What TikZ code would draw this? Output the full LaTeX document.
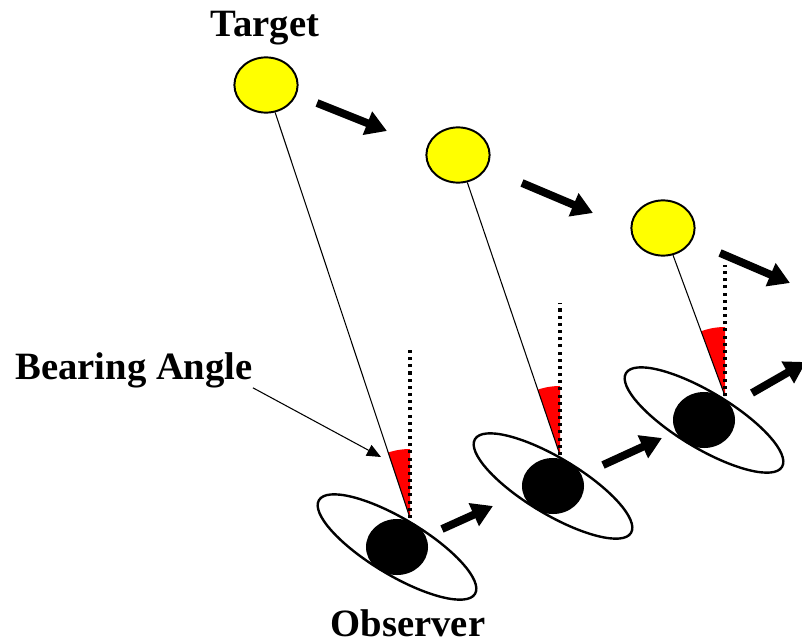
\documentclass[tikz,border=0pt]{standalone}
\usepackage{fontspec}
\setmainfont{Liberation Serif}
\usepackage{tikz}
\usetikzlibrary{
  arrows.meta,
  positioning,
  shapes.geometric,
  calc
}
\usepackage{xcolor}
\definecolor{sunyellow}{RGB}{255,255,0}
\definecolor{anglered}{RGB}{255,0,0}

\begin{document}
\begin{tikzpicture}[
  x=0.025cm, y=-0.025cm,
  target/.style={ellipse, draw=black, line width=1.4pt, fill=sunyellow,
    minimum width=1.58cm, minimum height=1.38cm, inner sep=0pt},
  eye/.style={ellipse, fill=black, minimum width=1.55cm,
    minimum height=1.4cm, inner sep=0pt},
  sight/.style={line width=0.75pt},
  heading/.style={line width=2.2pt, dash pattern=on 2.2pt off 2.9pt},
  move/.style={line width=5.6pt, -{Triangle[length=15pt,width=17pt]}},
  pointer/.style={line width=0.75pt, -{Triangle[length=10pt,width=8.5pt]}},
  bigtext/.style={font=\fontsize{27.5}{31}\selectfont\bfseries, inner sep=0pt}
]
  \useasboundingbox (0,0) rectangle (802,644);

  % Targets and observers
  \foreach \k/\tx/\ty/\ox/\oy/\vx/\vy/\ny in {
    1/266/85/397/547/410/518/348,
    2/458/155/553/486/560/455/303,
    3/663/228/704/420/725/396/265
  }{
    \draw[line width=1.7pt, rotate around={-31:(\ox,\oy)}]
      (\ox,\oy) ellipse (91 and 28);
    \node[eye] (O\k) at (\ox,\oy) {};
    \node[target] (T\k) at (\tx,\ty) {};
    \coordinate (V\k) at (\vx,\vy);
    \coordinate (N\k) at (\vx,\ny);
    % bearing wedge
    \begin{scope}
      \clip (V\k) circle (69);
      \fill[anglered] (V\k) -- (T\k.center) -- (V\k |- T\k.center) -- cycle;
    \end{scope}
    \draw[sight] (T\k) -- (V\k);
    \draw[heading] (V\k) -- (N\k);
  }

  % Motion arrows
  \foreach \k/\sx/\sy/\ex/\ey in {
    1/317/103/387/131,
    2/522/183/593/213,
    3/720/253/790/283,
    4/442/529/493/506,
    5/603/465/662/438,
    6/752/393/806/362
  }{
    \coordinate (ms\k) at (\sx,\sy);
    \coordinate (me\k) at (\ex,\ey);
    \draw[move] (ms\k) -- (me\k);
  }

  % Labels
  \node[bigtext, anchor=base] (TL) at (265,37) {Target};
  \node[bigtext, anchor=base west] (BA) at (15,379) {Bearing Angle};
  \node[bigtext, anchor=base] (OL) at (408,636) {Observer};
  \coordinate (BAtip) at (381,457);
  \draw[pointer] (BA.south east) -- (BAtip);
\end{tikzpicture}
\end{document}
